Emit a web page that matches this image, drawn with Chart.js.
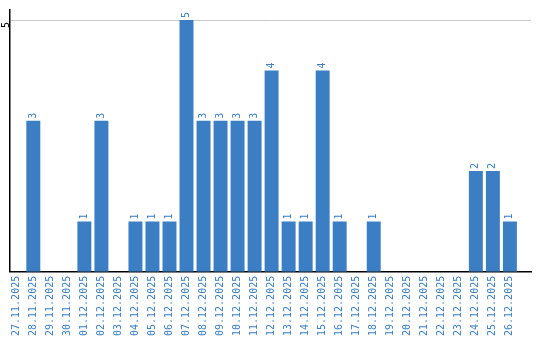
<!DOCTYPE html>
<html lang="en">
<head>
    <meta charset="UTF-8" />
    <title>Daily counts</title>
    <style>
        html, body { margin: 0; padding: 0; background: #fff; }
        #wrapper { width: 540px; height: 340px; }
    </style>
</head>
<body>
    <div id="wrapper">
        <canvas id="chart"></canvas>
    </div>

    <script src="https://cdn.jsdelivr.net/npm/chart.js@4/dist/chart.umd.min.js"></script>
    <script>
        const dates = [
            "27.11.2025", "28.11.2025", "29.11.2025", "30.11.2025", "01.12.2025",
            "02.12.2025", "03.12.2025", "04.12.2025", "05.12.2025", "06.12.2025",
            "07.12.2025", "08.12.2025", "09.12.2025", "10.12.2025", "11.12.2025",
            "12.12.2025", "13.12.2025", "14.12.2025", "15.12.2025", "16.12.2025",
            "17.12.2025", "18.12.2025", "19.12.2025", "20.12.2025", "21.12.2025",
            "22.12.2025", "23.12.2025", "24.12.2025", "25.12.2025", "26.12.2025"
        ];
        const counts = [0, 3, 0, 0, 1, 3, 0, 1, 1, 1, 5, 3, 3, 3, 3, 4, 1, 1, 4, 1, 0, 1, 0, 0, 0, 0, 0, 2, 2, 1];
        const yTicks = [5];

        const blue = "#3b7ec3";
        const monoFont = { family: "'DejaVu Sans Mono', monospace", size: 10 };

        // the value above each bar, turned like the axis labels
        const valueLabels = {
            id: "valueLabels",
            afterDatasetsDraw(chart) {
                const ctx = chart.ctx;
                const meta = chart.getDatasetMeta(0);
                ctx.save();
                ctx.fillStyle = blue;
                ctx.font = "10px 'DejaVu Sans Mono', monospace";
                ctx.textAlign = "left";
                ctx.textBaseline = "middle";
                meta.data.forEach((bar, i) => {
                    const v = counts[i];
                    if (!v) return;
                    ctx.save();
                    ctx.translate(bar.x, bar.y - 2);
                    ctx.rotate(-Math.PI / 2);
                    ctx.fillText(String(v), 0, 0);
                    ctx.restore();
                });
                ctx.restore();
            }
        };

        new Chart("chart", {
            type: "bar",
            data: {
                datasets: [{
                    data: counts.map((c, i) => ({ x: i, y: c })),
                    backgroundColor: blue,
                    barPercentage: 0.82,
                    categoryPercentage: 1
                }]
            },
            options: {
                responsive: true,
                maintainAspectRatio: false,
                animation: false,
                layout: { padding: { top: 10, right: 9, left: 0 } },
                plugins: {
                    legend: { display: false },
                    tooltip: { enabled: false }
                },
                scales: {
                    x: {
                        type: "linear",
                        offset: false,
                        min: -0.37,
                        max: 30.24,
                        afterBuildTicks(axis) {
                            axis.ticks = dates.map((d, i) => ({ value: i }));
                        },
                        afterFit(axis) {
                            axis.paddingLeft = 0;
                            axis.paddingRight = 0;
                        },
                        grid: { display: false, drawTicks: false },
                        border: { color: "#000", width: 1.5 },
                        ticks: {
                            color: blue,
                            font: monoFont,
                            maxRotation: 90,
                            minRotation: 90,
                            autoSkip: false,
                            padding: 4,
                            callback: v => dates[v]
                        }
                    },
                    y: {
                        min: 0,
                        max: 5.2,
                        afterBuildTicks(axis) {
                            axis.ticks = yTicks.map(v => ({ value: v }));
                        },
                        afterFit(axis) {
                            axis.width = 10;
                        },
                        grid: { color: "#c8c8c8", drawTicks: false },
                        border: { color: "#000", width: 1.5 },
                        ticks: {
                            color: "#000",
                            font: monoFont,
                            padding: 4,
                            labelOffset: 2,
                            maxRotation: 90,
                            minRotation: 90
                        }
                    }
                }
            },
            plugins: [valueLabels]
        });
    </script>
</body>
</html>
